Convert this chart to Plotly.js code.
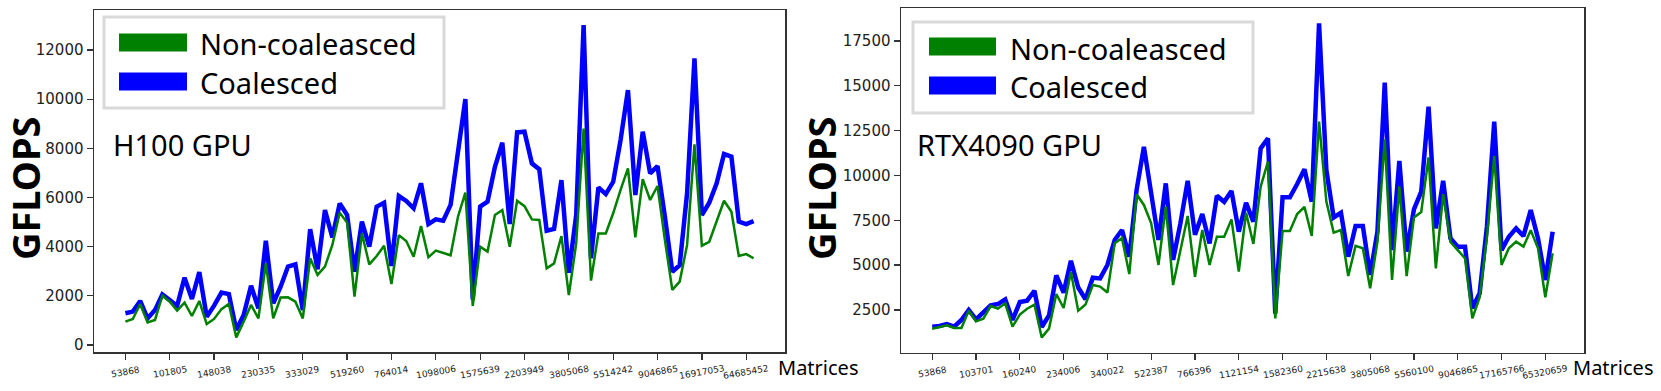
<!DOCTYPE html>
<html>
<head>
<meta charset="utf-8">
<script src="https://cdn.plot.ly/plotly-3.0.1.min.js"></script>
<style>html,body{margin:0;padding:0;background:#fff;}#chart{width:1661px;height:391px;}</style>
</head>
<body>
<div id="chart"></div>
<script>
// ---------- DATA ----------
const h100Ticks = ["53868","101805","148038","230335","333029","519260","764014","1098006","1575639","2203949","3805068","5514242","9046865","16917053","64685452"];
const rtxTicks = ["53868","103701","160240","234006","340022","522387","766396","1121154","1582360","2215638","3805068","5560100","9046865","17165766","65320659"];

const h100NonCoalesced = [950,1060,1670,920,1020,2010,1760,1400,1720,1180,1790,850,1060,1460,1670,310,950,1630,1080,3320,1080,1930,1940,1760,1080,3530,2850,3190,4070,5380,4980,1970,4540,3280,3620,4040,2480,4470,4230,3590,4840,3570,3840,3730,3650,5220,6200,1590,4000,3800,5290,5490,4000,5870,5650,5110,5090,3120,3320,4430,2030,4140,8810,2620,4540,4540,5360,6310,7190,4380,6750,5900,6470,4270,2240,2580,4070,8160,4040,4200,5020,5870,5420,3620,3700,3530];
const h100Coalesced = [1290,1360,1790,1080,1420,2060,1830,1590,2740,1870,2970,1150,1600,2130,2070,610,1220,2410,1490,4240,1700,2370,3190,3280,1420,4710,3080,5490,4380,5760,5290,2980,5020,4000,5630,5790,3210,6060,5860,5560,6580,4920,5110,5060,5700,7800,10010,1850,5630,5830,7250,8230,4920,8650,8680,7390,7150,4650,4720,6710,2940,5300,13020,3530,6410,6140,6640,8340,10370,6100,8680,6980,7280,5220,2980,3250,6170,11660,5290,5790,6580,7770,7660,5020,4920,5040];

const rtxNonCoalesced = [1457,1532,1643,1494,1494,2460,1866,2015,2720,2570,2870,1570,2240,2570,2800,970,1460,3390,2610,4610,2460,2800,3890,3800,3470,6220,6500,4500,8950,8355,7330,5010,8260,3890,5840,7740,4350,6960,5010,6580,6580,7550,4640,7920,6180,9380,10770,2030,6900,6900,7850,8250,6630,13000,8540,6810,6960,4390,6070,5940,3710,6310,12010,4170,9390,4390,7660,7960,11010,4820,8960,6290,5840,5380,2030,3200,6580,11090,5010,5940,6310,6030,6950,5940,3200,5660];
const rtxCoalesced = [1569,1606,1718,1569,1940,2500,1980,2350,2760,2830,3090,1940,2940,3020,3570,1550,2200,4430,3460,5240,3750,3100,4300,4260,5010,6400,6960,5470,9190,11600,8800,6400,9560,5290,7330,9700,6690,7850,6210,8870,8530,9140,6870,8480,7420,11510,12070,2300,8780,8780,9520,10340,8540,18480,10300,7660,7920,5470,7180,7180,4450,6870,15180,5840,10810,5750,8110,9100,13840,7050,9700,6500,6030,6030,2590,3430,7140,13000,5840,6580,7050,6620,8070,6490,4170,6860];

const seriesNames = ["Non-coaleasced","Coalesced"];
const gpuNames = ["H100 GPU","RTX4090 GPU"];
const TICK_EVERY = 6;

// ---------- helpers ----------
const W = 1661, H = 391;
const px = x => x / W;
const py = y => 1 - y / H;
const idx = arr => arr.map((_, i) => i);

const GREEN = '#008000', BLUE = '#0000ff';
const traces = [
  {x: idx(h100Coalesced), y: h100Coalesced, type:'scatter', mode:'lines', line:{color:BLUE, width:4.5}, xaxis:'x', yaxis:'y', name:seriesNames[1], showlegend:false},
  {x: idx(h100NonCoalesced), y: h100NonCoalesced, type:'scatter', mode:'lines', line:{color:GREEN, width:2.5}, xaxis:'x', yaxis:'y', name:seriesNames[0], showlegend:false},
  {x: idx(rtxCoalesced), y: rtxCoalesced, type:'scatter', mode:'lines', line:{color:BLUE, width:4.5}, xaxis:'x2', yaxis:'y2', name:seriesNames[1], showlegend:false},
  {x: idx(rtxNonCoalesced), y: rtxNonCoalesced, type:'scatter', mode:'lines', line:{color:GREEN, width:2.5}, xaxis:'x2', yaxis:'y2', name:seriesNames[0], showlegend:false}
];

const tickValsFor = labels => labels.map((_, k) => k * TICK_EVERY);

const axisCommon = {
  showline:true, linecolor:'#333', linewidth:1.5, mirror:true,
  showgrid:false, zeroline:false, ticks:'outside', ticklen:6, tickwidth:1.3, tickcolor:'#333'
};

const layout = {
  width:W, height:H, margin:{l:0,r:0,t:0,b:0},
  paper_bgcolor:'#fff', plot_bgcolor:'#fff', showlegend:false,
  xaxis: Object.assign({}, axisCommon, {domain:[px(94), px(785)], range:[-4.25, 89.25], tickmode:'array', tickvals:tickValsFor(h100Ticks), showticklabels:false, anchor:'y'}),
  yaxis: Object.assign({}, axisCommon, {domain:[py(352), py(10)], range:[-285, 13630], tickmode:'linear', tick0:0, dtick:2000, tickformat:'d', tickfont:{family:'DejaVu Sans', size:15, color:'#222'}, anchor:'x'}),
  xaxis2: Object.assign({}, axisCommon, {domain:[px(901), px(1584)], range:[-4.28, 89.3], tickmode:'array', tickvals:tickValsFor(rtxTicks), showticklabels:false, anchor:'y2'}),
  yaxis2: Object.assign({}, axisCommon, {domain:[py(352.7), py(8.3)], range:[117, 19320], tickmode:'linear', tick0:0, dtick:2500, tickformat:'d', tickfont:{family:'DejaVu Sans', size:15, color:'#222'}, anchor:'x2'}),
  shapes:[], annotations:[]
};

// x tick labels (rotated, centred on ticks)
function addTickLabels(labels, xref) {
  labels.forEach((t, k) => {
    layout.annotations.push({text:t, xref:xref, yref:'paper', x:k*TICK_EVERY, y:py(372), xanchor:'center', yanchor:'middle',
      textangle:-10, showarrow:false, font:{family:'DejaVu Sans', size:9, color:'#222'}});
  });
}
addTickLabels(h100Ticks, 'x');
addTickLabels(rtxTicks, 'x2');

// legends (drawn manually to match thick swatches)
function addLegend(bx0, bx1, by0, by1, sx0, sx1, gy, by, tx, gty, bty) {
  layout.shapes.push({type:'rect', xref:'paper', yref:'paper', x0:px(bx0), x1:px(bx1), y0:py(by1), y1:py(by0),
    line:{color:'#d9d9d9', width:3}, fillcolor:'rgba(255,255,255,0.85)', layer:'above'});
  layout.shapes.push({type:'rect', xref:'paper', yref:'paper', x0:px(sx0), x1:px(sx1), y0:py(gy+9), y1:py(gy-9),
    line:{width:0}, fillcolor:GREEN, layer:'above'});
  layout.shapes.push({type:'rect', xref:'paper', yref:'paper', x0:px(sx0), x1:px(sx1), y0:py(by+9), y1:py(by-9),
    line:{width:0}, fillcolor:BLUE, layer:'above'});
  layout.annotations.push({text:seriesNames[0], xref:'paper', yref:'paper', x:px(tx), y:py(gty), xanchor:'left', yanchor:'middle',
    showarrow:false, font:{family:'Noto Sans', size:29, color:'#000'}});
  layout.annotations.push({text:seriesNames[1], xref:'paper', yref:'paper', x:px(tx), y:py(bty), xanchor:'left', yanchor:'middle',
    showarrow:false, font:{family:'Noto Sans', size:29, color:'#000'}});
}
addLegend(104, 444, 17, 108, 119, 187, 42.5, 81.5, 198, 43, 82);
addLegend(913, 1253, 22, 113, 929, 996, 46.5, 85.5, 1008, 48, 86);

// GPU labels
layout.annotations.push({text:gpuNames[0], xref:'paper', yref:'paper', x:px(111), y:py(144), xanchor:'left', yanchor:'middle', showarrow:false, font:{family:'Noto Sans', size:29, color:'#000'}});
layout.annotations.push({text:gpuNames[1], xref:'paper', yref:'paper', x:px(915), y:py(144), xanchor:'left', yanchor:'middle', showarrow:false, font:{family:'Noto Sans', size:29, color:'#000'}});

// axis titles
[25, 821].forEach(xc => layout.annotations.push({text:'GFLOPS', xref:'paper', yref:'paper', x:px(xc), y:py(189), xanchor:'center', yanchor:'middle', textangle:-90,
  showarrow:false, borderpad:0, font:{family:'Noto Sans', size:38, weight:'bold', color:'#000'}}));
[776, 1571].forEach(xl => layout.annotations.push({text:'Matrices', xref:'paper', yref:'paper', x:px(xl), y:py(367), xanchor:'left', yanchor:'middle',
  showarrow:false, font:{family:'Noto Sans', size:20, color:'#000'}}));

Plotly.newPlot('chart', traces, layout, {staticPlot:true, displayModeBar:false});
</script>
</body>
</html>
